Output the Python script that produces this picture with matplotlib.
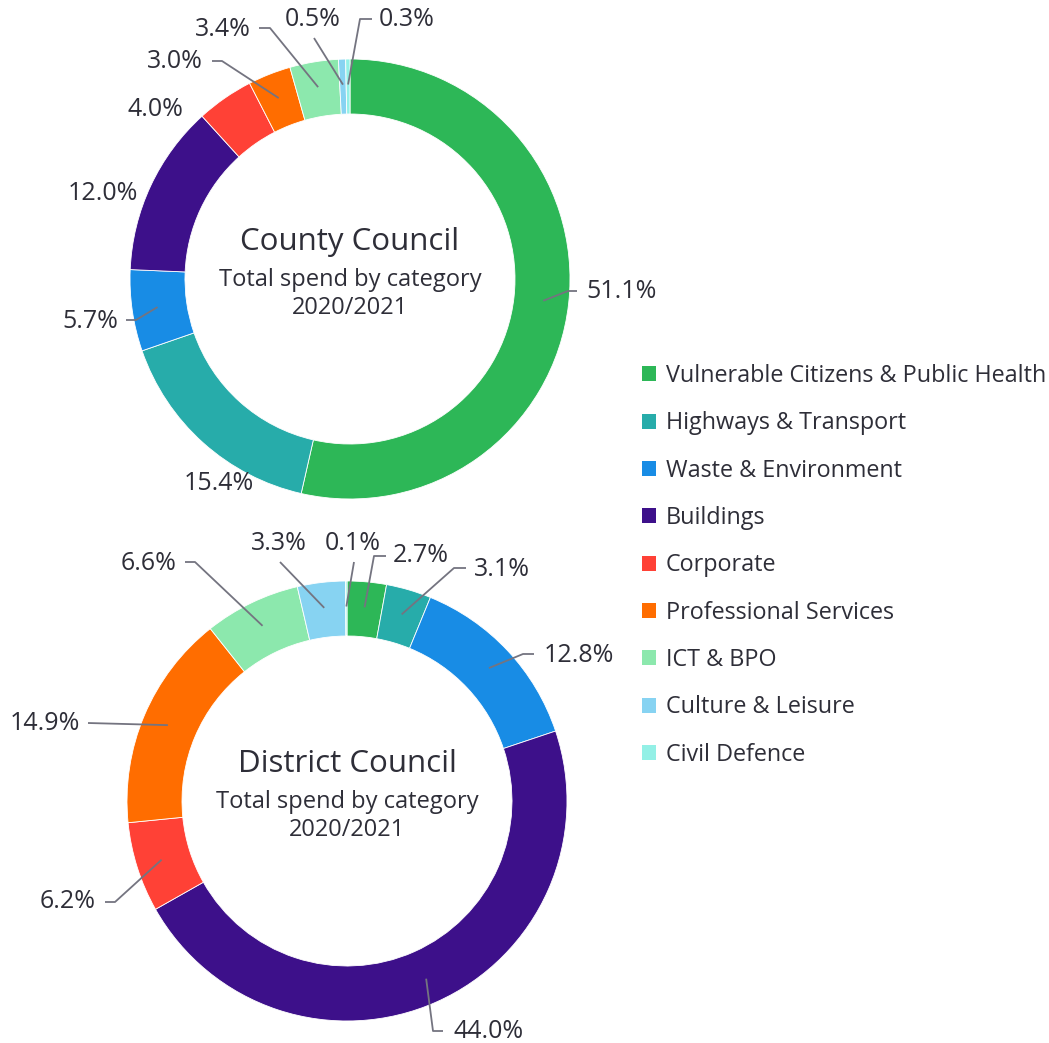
import numpy as np
import matplotlib.pyplot as plt
from matplotlib.patches import Patch

# Data
categories = [
    "Vulnerable Citizens & Public Health",
    "Highways & Transport",
    "Waste & Environment",
    "Buildings",
    "Corporate",
    "Professional Services",
    "ICT & BPO",
    "Culture & Leisure",
    "Civil Defence",
]
colors = ["#2DB757", "#27ACAA", "#188CE5", "#3D108A", "#FF4136",
          "#FF6D00", "#8CE8AD", "#87D3F2", "#93F0E6"]
county_pct = [51.1, 15.4, 5.7, 12.0, 4.0, 3.0, 3.4, 0.5, 0.3]
district_pct = [2.7, 3.1, 12.8, 44.0, 6.2, 14.9, 6.6, 3.3, 0.1]

W, H = 1049, 1043
TEXT = "#2E2E38"
LINE = "#747480"
R_OUT = 220
RING = 55

plt.rcParams['font.family'] = ['Open Sans', 'DejaVu Sans']


def Y(y):
    # pixel row -> data y (y axis points up)
    return H - y


# label layout, pixel coords: (text x, text y, ha, leader points from text side)
county_labels = [
    (586, 292, 'left', [(577, 291), (568, 291)]),
    (219, 484, 'center', None),
    (118, 321, 'right', [(126, 320), (136, 320)]),
    (138, 194, 'right', None),
    (183, 109, 'right', None),
    (203, 62, 'right', [(212, 61), (222, 61)]),
    (251, 29, 'right', [(259, 28), (270, 28)]),
    (313, 19, 'center', [(314, 38)]),
    (379, 19, 'left', [(372, 19), (360, 19)]),
]
district_labels = [
    (393, 556, 'left', [(386, 556), (374, 556)]),
    (474, 569, 'left', [(466, 568), (454, 568)]),
    (544, 655, 'left', [(534, 654), (523, 654)]),
    (453, 1032, 'left', [(443, 1031), (433, 1031)]),
    (96, 902, 'right', [(105, 902), (115, 902)]),
    (80, 724, 'right', [(88, 723)]),
    (177, 563, 'right', [(185, 562), (195, 562)]),
    (279, 543, 'center', [(280, 562)]),
    (353, 543, 'center', [(354, 562)]),
]


def donut(ax, values, cx, cy, labels, title):
    wedges, _ = ax.pie(values, colors=colors, startangle=90, counterclock=False,
                       radius=R_OUT, center=(cx, Y(cy)), frame=True,
                       wedgeprops=dict(width=RING, edgecolor='white', linewidth=0.6))
    for w, v, (tx, ty, ha, pts) in zip(wedges, values, labels):
        ax.text(tx, Y(ty), f"{v:.1f}%", ha=ha, va='center',
                fontsize=18, color=TEXT)
        if pts:
            mid = np.deg2rad((w.theta1 + w.theta2) / 2)
            r = R_OUT - RING / 2 + 2
            ax_x = cx + r * np.cos(mid)
            ax_y = Y(cy) + r * np.sin(mid)
            xs = [p[0] for p in pts] + [ax_x]
            ys = [Y(p[1]) for p in pts] + [ax_y]
            ax.plot(xs, ys, color=LINE, lw=1.3, solid_capstyle='butt')
    ax.text(cx, Y(cy - 37), title, ha='center', va='center',
            fontsize=22.5, color=TEXT)
    ax.text(cx, Y(cy + 1), "Total spend by category", ha='center', va='center',
            fontsize=17, color=TEXT)
    ax.text(cx, Y(cy + 29), "2020/2021", ha='center', va='center',
            fontsize=17, color=TEXT)


fig = plt.figure(figsize=(W / 100, H / 100), dpi=100)
ax = fig.add_axes([0, 0, 1, 1])

donut(ax, county_pct, 350, 279, county_labels, "County Council")
donut(ax, district_pct, 347, 801, district_labels, "District Council")

handles = [Patch(facecolor=c, edgecolor='none') for c in colors]
ax.legend(handles, categories, loc='upper left', bbox_to_anchor=(642, Y(364)),
          bbox_transform=ax.transData, frameon=False, fontsize=16.8,
          labelcolor=TEXT, handlelength=0.62, handleheight=0.62,
          handletextpad=0.4, labelspacing=1.0, borderpad=0, borderaxespad=0)

ax.set_xlim(0, W)
ax.set_ylim(0, H)
ax.set_aspect('equal')
ax.axis('off')

fig.savefig("out.png", dpi=100, facecolor='white')
